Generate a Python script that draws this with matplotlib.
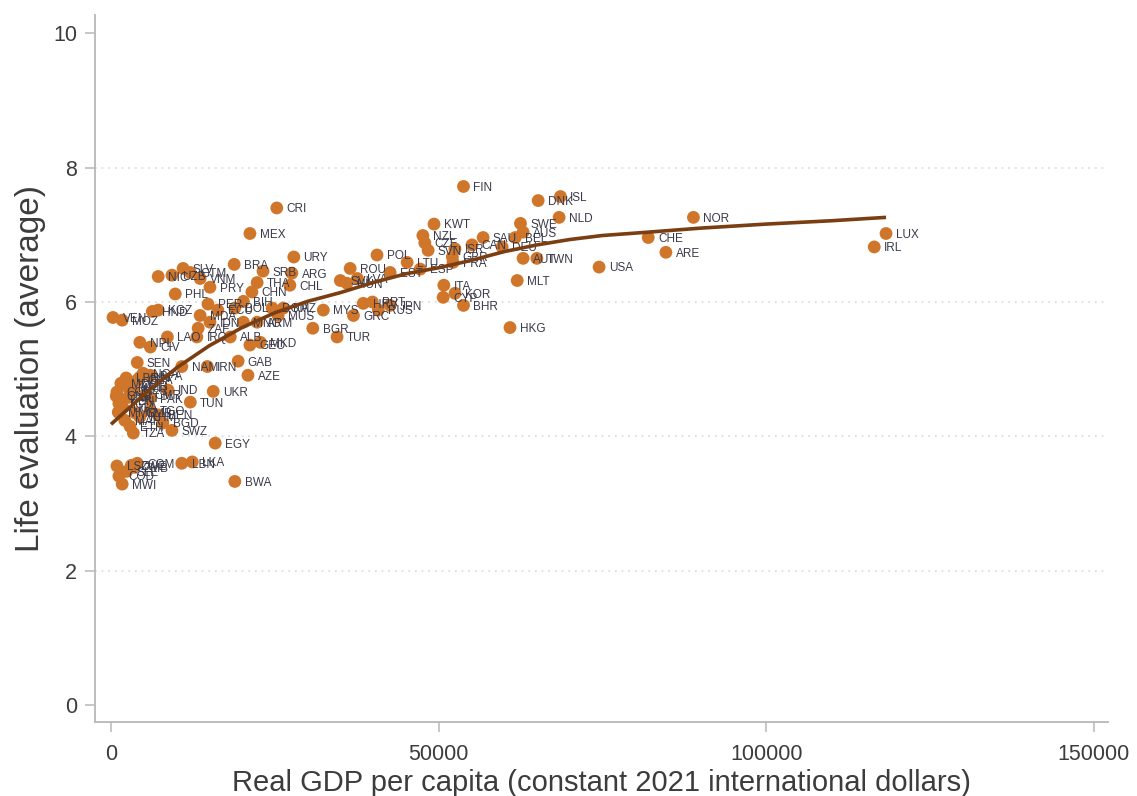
import matplotlib.pyplot as plt
import numpy as np

# country codes, real GDP per capita (2021 intl $) and average life evaluation
codes = [
    'LUX', 'IRL', 'NOR', 'ISL', 'DNK', 'NLD', 'FIN', 'SWE', 'AUS', 'BEL',
    'SAU', 'CAN', 'DEU', 'KWT', 'NZL', 'CZE', 'SVN', 'ISR', 'GBR', 'FRA',
    'AUT', 'TWN', 'MLT', 'ITA', 'LTU', 'ESP', 'EST', 'POL', 'ROU', 'SVK',
    'HUN', 'LVA', 'USA', 'CHE', 'ARE', 'HKG', 'BHR', 'KOR', 'CYP', 'HRV',
    'PRT', 'RUS', 'JPN', 'MYS', 'GRC', 'BGR', 'TUR', 'MUS', 'KAZ', 'DOM',
    'URY', 'CRI', 'MEX', 'BRA', 'SRB', 'ARG', 'THA', 'CHL', 'CHN', 'BIH',
    'BOL', 'ECU', 'PER', 'MDA', 'IDN', 'ZAF', 'MNG', 'ARM', 'ALB', 'MKD',
    'GEO', 'IRQ', 'LAO', 'NPL', 'CIV', 'SEN', 'NAM', 'IRN', 'GAB', 'AZE',
    'UKR', 'TUN', 'IND', 'PAK', 'EGY', 'SWZ', 'TZA', 'ETH', 'BWA', 'LBN',
    'LKA', 'ZWE', 'COM', 'ZMB', 'SLE', 'COD', 'MWI', 'LSO', 'VEN', 'MOZ',
    'HND', 'KGZ', 'PHL', 'NIC', 'UZB', 'SLV', 'GTM', 'VNM', 'PRY',
    'GHA', 'CMR', 'GIN', 'BFA', 'NGA', 'KEN', 'UGA', 'MLI', 'NER', 'TGO',
    'BEN', 'GMB', 'KHM', 'BGD', 'MMR', 'MAR', 'COG', 'TCD', 'MDG', 'LBR',
    'MRT', 'CMR', 'GNB',
]
gdp = [
    118300, 116500, 88900, 68600, 65200, 68400, 53800, 62500, 62900, 61700,
    56800, 55100, 59700, 49300, 47600, 47900, 48400, 52500, 52100, 52200,
    62900, 65000, 62000, 50800, 45200, 47200, 42600, 40600, 36500, 35000,
    36000, 37600, 74500, 82000, 84700, 60900, 53800, 52500, 50700, 38500,
    39900, 40800, 42600, 32400, 37000, 30800, 34500, 25500, 26300, 24600,
    27900, 25300, 21200, 18800, 23200, 27600, 22300, 27300, 21500, 20200,
    18900, 16300, 14800, 13600, 15100, 13300, 20200, 22300, 18200, 22800,
    21200, 13100, 8600, 4400, 6000, 4000, 10800, 14700, 19400, 20900,
    15600, 12100, 8700, 6000, 15900, 9300, 3400, 2900, 18900, 10800,
    12400, 3100, 4000, 3500, 2400, 1200, 1700, 900, 300, 1700,
    6300, 7200, 9800, 7200, 9300, 11000, 12100, 13600, 15100,
    4000, 3200, 4400, 6000, 4900, 1400, 1800, 2600, 3400, 6000,
    7200, 3700, 4400, 7900, 1100, 2100, 900, 1200, 1500, 2300,
    2700, 5200, 800,
]
life = [
    7.02, 6.82, 7.26, 7.57, 7.51, 7.26, 7.72, 7.17, 7.04, 6.96,
    6.96, 6.85, 6.82, 7.16, 6.99, 6.88, 6.77, 6.79, 6.67, 6.59,
    6.65, 6.65, 6.32, 6.25, 6.59, 6.49, 6.44, 6.70, 6.50, 6.32,
    6.28, 6.35, 6.52, 6.96, 6.74, 5.62, 5.95, 6.13, 6.07, 5.98,
    6.00, 5.88, 5.95, 5.88, 5.80, 5.61, 5.48, 5.80, 5.91, 5.91,
    6.67, 7.40, 7.02, 6.56, 6.46, 6.43, 6.29, 6.25, 6.15, 6.01,
    5.91, 5.88, 5.97, 5.80, 5.70, 5.61, 5.70, 5.70, 5.48, 5.40,
    5.36, 5.48, 5.48, 5.40, 5.33, 5.10, 5.04, 5.04, 5.12, 4.91,
    4.67, 4.51, 4.69, 4.57, 3.90, 4.09, 4.05, 4.15, 3.33, 3.60,
    3.62, 3.57, 3.60, 3.54, 3.48, 3.41, 3.29, 3.56, 5.77, 5.73,
    5.86, 5.88, 6.12, 6.38, 6.40, 6.50, 6.44, 6.35, 6.22,
    4.84, 4.76, 4.88, 4.91, 4.94, 4.54, 4.43, 4.58, 4.69, 4.39,
    4.32, 4.35, 4.29, 4.20, 4.36, 4.24, 4.66, 4.49, 4.79, 4.87,
    4.72, 4.62, 4.60,
]

# smoothed (lowess) fit through the scatter
fit_gdp = [0, 5000, 10000, 15000, 20000, 25000, 30000, 35000, 40000, 45000,
           50000, 55000, 60000, 65000, 70000, 75000, 82000, 90000, 100000,
           110000, 118300]
fit_life = [4.18, 4.62, 5.02, 5.35, 5.62, 5.84, 6.01, 6.14, 6.29, 6.42,
            6.51, 6.62, 6.75, 6.85, 6.93, 6.99, 7.04, 7.10, 7.16, 7.21, 7.26]

x_ticks = [0, 50000, 100000, 150000]
y_ticks = [0, 2, 4, 6, 8, 10]

dot_color = '#d0762b'
line_color = '#7a3e12'
spine_color = '#b8b8b8'
text_color = '#3c3c3c'

fig = plt.figure(figsize=(11.37, 7.96), dpi=100)
ax = fig.add_axes([0.0836, 0.093, 0.891, 0.888])

for y in [2, 4, 6, 8]:
    ax.axhline(y, color='#d9d9d9', lw=1.2, ls=(0, (1, 3)), zorder=0)

ax.scatter(gdp, life, s=85, color=dot_color, edgecolors='none', zorder=2)
for c, x, y in zip(codes, gdp, life):
    ax.annotate(c, (x, y), xytext=(7, -1), textcoords='offset points',
                va='center', ha='left', fontsize=8.5, color='#3a3a4a',
                family='Liberation Sans', zorder=3)

ax.plot(fit_gdp, fit_life, color=line_color, lw=2.6, zorder=4,
        solid_capstyle='butt')

ax.set_xlim(-2440, 152200)
ax.set_ylim(-0.25, 10.27)
ax.set_xticks(x_ticks)
ax.set_yticks(y_ticks)

for side in ['top', 'right']:
    ax.spines[side].set_visible(False)
for side in ['left', 'bottom']:
    ax.spines[side].set_color(spine_color)
    ax.spines[side].set_linewidth(1.3)

ax.tick_params(axis='both', colors=spine_color, length=7, width=1.1,
               labelsize=15.5, labelcolor=text_color)
ax.tick_params(axis='x', pad=9)
ax.tick_params(axis='y', pad=6)
for lbl in ax.get_xticklabels() + ax.get_yticklabels():
    lbl.set_family('Liberation Sans')

ax.set_xlabel('Real GDP per capita (constant 2021 international dollars)',
              fontsize=21, color=text_color, family='Liberation Sans',
              labelpad=3)
ax.set_ylabel('Life evaluation (average)', fontsize=24, color=text_color,
              family='Liberation Sans', labelpad=5)

fig.savefig('out.png', dpi=100)
